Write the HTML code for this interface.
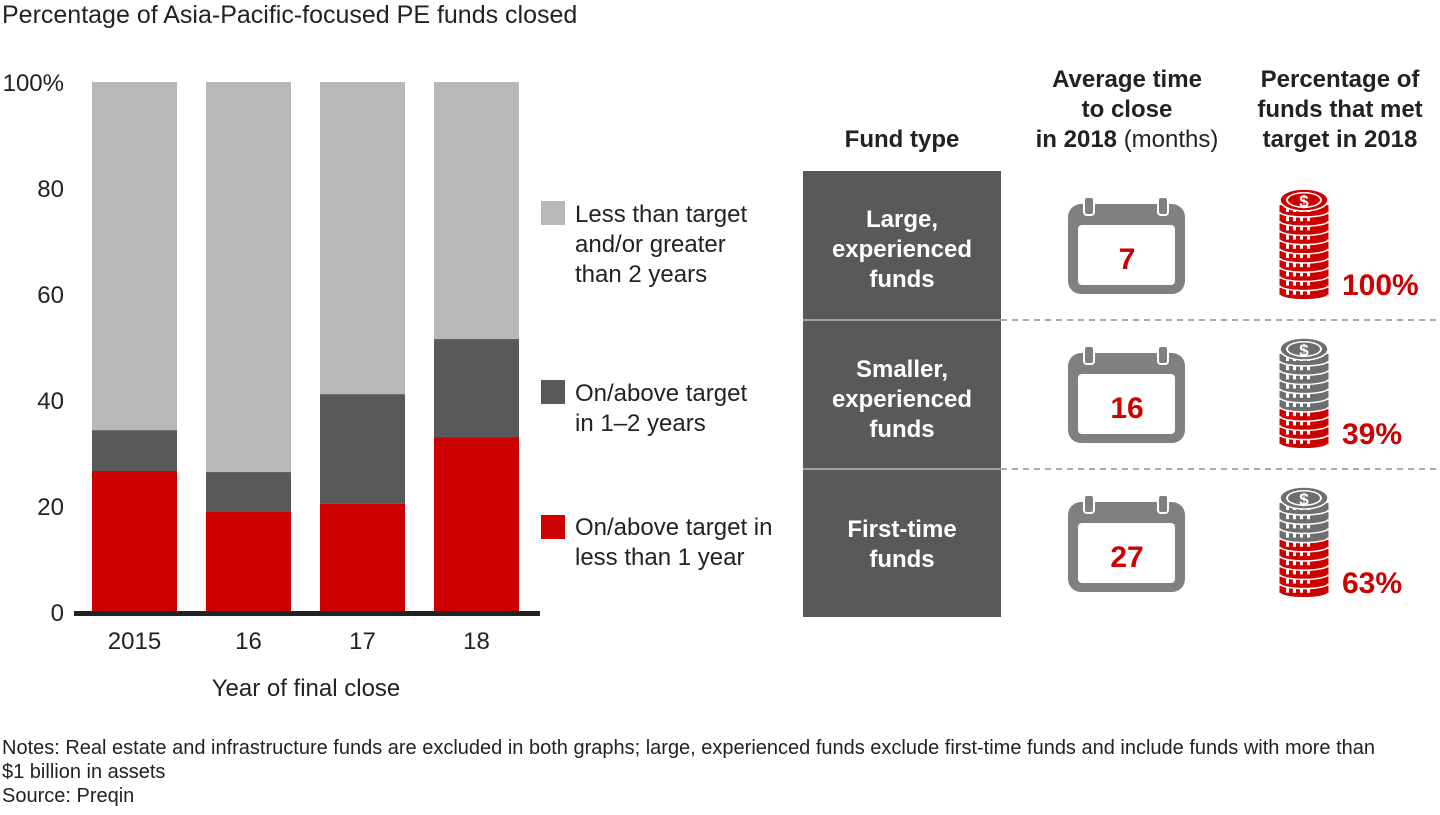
<!DOCTYPE html>
<html><head><meta charset="utf-8">
<style>
body{margin:0;width:1440px;height:810px;background:#fff;font-family:"Liberation Sans",Arial,sans-serif;overflow:hidden}
svg text{font-family:"Liberation Sans",Arial,sans-serif}
</style></head>
<body>
<svg id="chart" width="1440" height="810" viewBox="0 0 1440 810" xmlns="http://www.w3.org/2000/svg">
<text x="2" y="23" font-size="25" fill="#222">Percentage of Asia-Pacific-focused PE funds closed</text>
<g id="bars"></g>
<g id="yticks"></g>
<g id="xticks"></g>
<rect x="74" y="611" width="466" height="5" fill="#222"/>
<text x="306" y="696" font-size="24" fill="#222" text-anchor="middle">Year of final close</text>

<g font-size="24" fill="#222">
<rect x="541" y="201" width="24" height="24" fill="#b8b8b8"/>
<text x="575" y="222"><tspan x="575">Less than target</tspan><tspan x="575" dy="30">and/or greater</tspan><tspan x="575" dy="30">than 2 years</tspan></text>
<rect x="541" y="380" width="24" height="24" fill="#58595b"/>
<text x="575" y="401"><tspan x="575">On/above target</tspan><tspan x="575" dy="30">in 1–2 years</tspan></text>
<rect x="541" y="515" width="24" height="24" fill="#cc0000"/>
<text x="575" y="535"><tspan x="575">On/above target in</tspan><tspan x="575" dy="30">less than 1 year</tspan></text>
</g>

<g font-size="24" font-weight="bold" fill="#222" text-anchor="middle">
<text x="902" y="147">Fund type</text>
<text x="1127" y="87"><tspan x="1127">Average time</tspan><tspan x="1127" dy="30">to close</tspan><tspan x="1127" dy="30">in 2018 <tspan font-weight="normal">(months)</tspan></tspan></text>
<text x="1340" y="87"><tspan x="1340">Percentage of</tspan><tspan x="1340" dy="30">funds that met</tspan><tspan x="1340" dy="30">target in 2018</tspan></text>
</g>

<rect x="803" y="171" width="198" height="446" fill="#58595b"/>
<line x1="803" y1="320" x2="1001" y2="320" stroke="#bbb" stroke-width="1.5"/>
<line x1="803" y1="469" x2="1001" y2="469" stroke="#bbb" stroke-width="1.5"/>
<line x1="1001" y1="320" x2="1440" y2="320" stroke="#555" stroke-dasharray="6,5"/>
<line x1="1001" y1="469" x2="1440" y2="469" stroke="#555" stroke-dasharray="6,5"/>
<g font-size="24" font-weight="bold" fill="#fff" text-anchor="middle">
<text x="902" y="227"><tspan x="902">Large,</tspan><tspan x="902" dy="30">experienced</tspan><tspan x="902" dy="30">funds</tspan></text>
<text x="902" y="377"><tspan x="902">Smaller,</tspan><tspan x="902" dy="30">experienced</tspan><tspan x="902" dy="30">funds</tspan></text>
<text x="902" y="537"><tspan x="902">First-time</tspan><tspan x="902" dy="30">funds</tspan></text>
</g>
<g id="icons"></g>

<g font-size="20" fill="#222">
<text x="2" y="754">Notes: Real estate and infrastructure funds are excluded in both graphs; large, experienced funds exclude first-time funds and include funds with more than</text>
<text x="2" y="778">$1 billion in assets</text>
<text x="2" y="802">Source: Preqin</text>
</g>
</svg>
<script>
const years = ["2015","16","17","18"];
const underOne = [26.6, 19.0, 20.4, 33.0];
const oneToTwo = [7.7, 7.4, 20.7, 18.5];
const yTicks = [0,20,40,60,80,100];
const months = [7,16,27];
const metPct = [100,39,63];

const NS="http://www.w3.org/2000/svg";
const y0=612, y100=82;
const yScale=v=>y0-(v/100)*(y0-y100);
const xLeft=[92,206,320,434], bw=85;
function mk(tag,attrs,parent){const e=document.createElementNS(NS,tag);for(const k in attrs)e.setAttribute(k,attrs[k]);parent.appendChild(e);return e;}
const bars=document.getElementById('bars');
years.forEach((yr,i)=>{
  const x=xLeft[i];
  const a=underOne[i], b=a+oneToTwo[i];
  let r=mk('rect',{x:x,y:yScale(100),width:bw,height:yScale(b)-yScale(100),fill:'#b8b8b8'},bars);
  
  
  r=mk('rect',{x:x,y:yScale(b),width:bw,height:yScale(a)-yScale(b),fill:'#58595b'},bars);
  
  
  r=mk('rect',{x:x,y:yScale(a),width:bw,height:y0-yScale(a),fill:'#cc0000'},bars);
  
  
  const t=mk('text',{x:x+bw/2,y:649,'font-size':24,fill:'#222','text-anchor':'middle'},document.getElementById('xticks'));
  t.textContent=yr;
  
  
});
yTicks.forEach(v=>{
  const t=mk('text',{x:64,y:yScale(v)+9,'font-size':24,fill:'#222','text-anchor':'end'},document.getElementById('yticks'));
  t.textContent=v===100?'100%':String(v);
  
  
});
const icons=document.getElementById('icons');
const rowTop=[171,320,469];
months.forEach((m,i)=>{
  const g=mk('g',{},icons);
  
  
  const t0=rowTop[i];
  mk('rect',{x:1068,y:t0+33,width:117,height:90,rx:13,fill:'#808080'},g);
  mk('rect',{x:1078,y:t0+54,width:97,height:60,rx:4,fill:'#fff'},g);
  mk('rect',{x:1084,y:t0+26,width:10,height:18,rx:3,fill:'#808080',stroke:'#fff','stroke-width':2},g);
  mk('rect',{x:1158,y:t0+26,width:10,height:18,rx:3,fill:'#808080',stroke:'#fff','stroke-width':2},g);
  const t=mk('text',{x:1127,y:t0+98,'font-size':30,'font-weight':'bold',fill:'#cc0000','text-anchor':'middle'},g);
  t.textContent=m;
  const cg=mk('g',{},icons);
  
  
  const n=10, top=t0+17, cx=1304;
  const redCount=Math.round(metPct[i]/100*n);
  for(let k=n-1;k>=0;k--){
    const cy=top+20+k*9.2;
    const col=(n-1-k)<redCount?'#cc0000':'#6d6e70';
    mk('ellipse',{cx:cx,cy:cy+4,rx:24,ry:5,fill:col,stroke:'#fff','stroke-width':1.5},cg);
    mk('rect',{x:cx-24.5,y:cy-3,width:49,height:7,fill:col},cg);
    for(let d=0;d<4;d++) mk('rect',{x:cx-18+d*7,y:cy-1,width:3,height:5,fill:'#fff'},cg);
  }
  const topCol=redCount>=n?'#cc0000':'#6d6e70';
  mk('ellipse',{cx:cx,cy:top+12,rx:24,ry:11,fill:topCol,stroke:'#fff','stroke-width':1.5},cg);
  mk('ellipse',{cx:cx,cy:top+12,rx:18,ry:8,fill:'#fff'},cg);
  mk('ellipse',{cx:cx,cy:top+12,rx:16,ry:6.5,fill:topCol},cg);
  const ds=mk('text',{x:cx,y:top+19,'font-size':17,'font-weight':'bold',fill:'#fff','text-anchor':'middle'},cg);
  ds.textContent='$';
  const p=mk('text',{x:1342,y:t0+124,'font-size':30,'font-weight':'bold',fill:'#cc0000'},icons);
  p.textContent=metPct[i]+'%';
  
  
});
</script>
</body></html>
